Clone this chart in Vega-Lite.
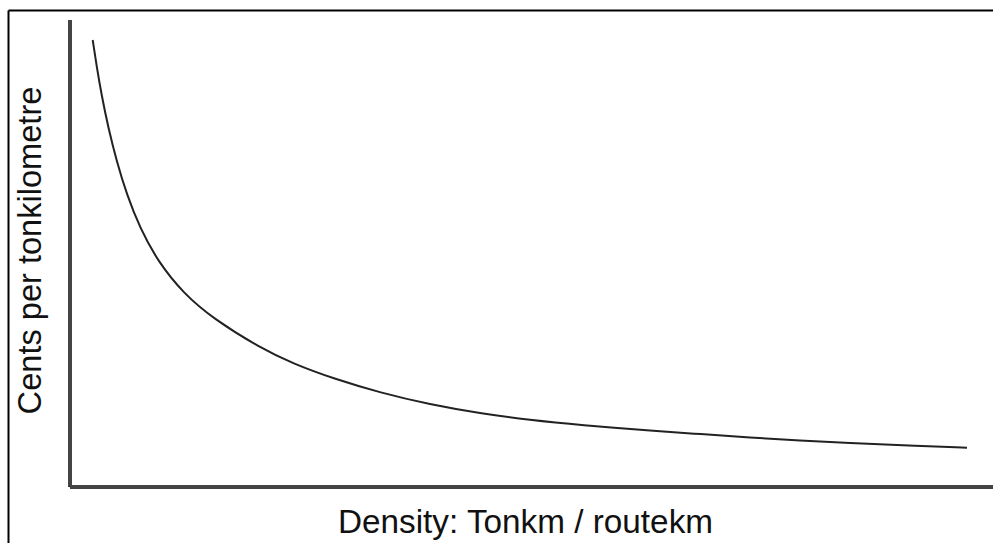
{
  "$schema": "https://vega.github.io/schema/vega-lite/v6.json",
  "width": 985,
  "height": 533,
  "autosize": {"type": "none"},
  "padding": {"left": 8, "top": 10, "right": 0, "bottom": 0},
  "background": "white",
  "config": {
    "view": {"stroke": null},
    "font": "Liberation Sans",
    "axis": {
      "domainColor": "#000000",
      "domainWidth": 2,
      "ticks": false,
      "labels": false,
      "grid": false,
      "titleFont": "Liberation Sans",
      "titleFontWeight": "normal",
      "titleColor": "#111111",
      "titleBaseline": "alphabetic"
    }
  },
  "data": {
    "values": [
      {"density": 2.46, "cents": 95.72},
      {"density": 2.89, "cents": 90.06},
      {"density": 3.43, "cents": 83.85},
      {"density": 4.15, "cents": 76.94},
      {"density": 5.06, "cents": 69.74},
      {"density": 6.14, "cents": 62.68},
      {"density": 7.58, "cents": 55.42},
      {"density": 9.57, "cents": 48.16},
      {"density": 12.28, "cents": 41.48},
      {"density": 15.53, "cents": 36.02},
      {"density": 20.59, "cents": 29.81},
      {"density": 24.16, "cents": 26.42},
      {"density": 28.71, "cents": 23.1},
      {"density": 33.59, "cents": 20.21},
      {"density": 39.0, "cents": 17.67},
      {"density": 44.42, "cents": 15.78},
      {"density": 49.84, "cents": 14.35},
      {"density": 55.25, "cents": 13.28},
      {"density": 63.38, "cents": 11.99},
      {"density": 68.26, "cents": 11.35},
      {"density": 73.67, "cents": 10.6},
      {"density": 79.09, "cents": 9.96},
      {"density": 84.51, "cents": 9.42},
      {"density": 89.92, "cents": 8.95},
      {"density": 97.18, "cents": 8.42}
    ]
  },
  "layer": [
    {
      "mark": {"type": "rule", "color": "#444444", "strokeWidth": 3},
      "encoding": {
        "x": {"datum": 0, "type": "quantitative"},
        "y": {"datum": 0, "type": "quantitative"},
        "y2": {"datum": 100}
      }
    },
    {
      "mark": {"type": "rule", "color": "#444444", "strokeWidth": 3},
      "encoding": {
        "y": {"datum": 0, "type": "quantitative"},
        "x": {"datum": 0, "type": "quantitative"},
        "x2": {"datum": 100}
      }
    },
    {
      "mark": {"type": "line", "color": "#222222", "strokeWidth": 2, "interpolate": "basis"},
      "encoding": {
        "x": {
          "field": "density",
          "type": "quantitative",
          "scale": {"domain": [-6.717, 100], "nice": false, "zero": false},
          "axis": {
            "orient": "top",
            "title": "Density: Tonkm / routekm",
            "titleFontSize": 33.3,
            "titleX": 517,
            "titleY": 522,
            "titleAlign": "center"
          }
        },
        "y": {
          "field": "cents",
          "type": "quantitative",
          "scale": {"domain": [-11.99, 102.14], "nice": false, "zero": false},
          "axis": {
            "orient": "left",
            "title": "Cents per tonkilometre",
            "titleFontSize": 32.6,
            "titleX": 32,
            "titleY": 240,
            "titleAngle": -90,
            "titleAlign": "center"
          }
        }
      }
    }
  ]
}
